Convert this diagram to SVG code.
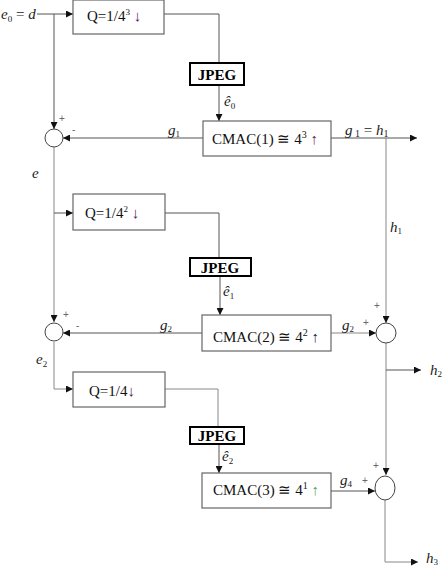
<svg xmlns="http://www.w3.org/2000/svg" width="442" height="572" viewBox="0 0 442 572">
<style>
.box{fill:#fff;stroke:#666;stroke-width:1.2}
.jpeg{fill:#fff;stroke:#000;stroke-width:2}
.ln{fill:none;stroke:#555;stroke-width:1}
.lt{fill:none;stroke:#888;stroke-width:1}
.sum{fill:#fff;stroke:#444;stroke-width:1}
.t{font-family:"Liberation Serif",serif;font-size:15px;fill:#111}
.jt{font-family:"Liberation Serif",serif;font-size:15px;font-weight:bold;fill:#000}
.it{font-family:"Liberation Serif",serif;font-size:15px;font-style:italic;fill:#222}
.pm{font-family:"Liberation Sans",sans-serif;font-size:10px;fill:#666}
</style>
<defs>
<marker id="ah" viewBox="0 0 10 10" refX="10" refY="5" markerWidth="7" markerHeight="7" orient="auto" markerUnits="userSpaceOnUse">
<path d="M0,0 L10,5 L0,10 z" fill="#111"/>
</marker>
</defs>

<g id="connectors">
<line class="ln" x1="37" y1="14" x2="73" y2="14" marker-end="url(#ah)"/>
<line class="ln" x1="54" y1="14" x2="54" y2="129" marker-end="url(#ah)"/>
<polyline class="ln" points="164,14 219,14 219,63"/>
<line class="ln" x1="219" y1="85" x2="219" y2="121" marker-end="url(#ah)"/>
<line class="ln" x1="203" y1="138" x2="63" y2="138" marker-end="url(#ah)"/>
<line class="ln" x1="331" y1="138" x2="417" y2="138" marker-end="url(#ah)"/>
<line class="lt" x1="386" y1="138" x2="386" y2="323" marker-end="url(#ah)"/>
<line class="lt" x1="54" y1="147" x2="54" y2="322" marker-end="url(#ah)"/>
<line class="ln" x1="54" y1="213" x2="73" y2="213" marker-end="url(#ah)"/>
<polyline class="ln" points="165,213 219,213 219,258"/>
<line class="ln" x1="220" y1="276" x2="220" y2="315" marker-end="url(#ah)"/>
<line class="ln" x1="202" y1="333" x2="63" y2="333" marker-end="url(#ah)"/>
<line class="lt" x1="331" y1="333" x2="376" y2="333" marker-end="url(#ah)"/>
<polyline class="lt" points="54,342 54,389 73,389" marker-end="url(#ah)"/>
<polyline class="lt" points="165,389 218,389 218,427"/>
<line class="ln" x1="219" y1="444" x2="219" y2="473" marker-end="url(#ah)"/>
<line class="lt" x1="386" y1="343" x2="386" y2="475" marker-end="url(#ah)"/>
<line class="ln" x1="386" y1="370" x2="421" y2="370" marker-end="url(#ah)"/>
<line class="ln" x1="331" y1="491" x2="375" y2="491" marker-end="url(#ah)"/>
<polyline class="lt" points="385,500 385,562 418,562" marker-end="url(#ah)"/>
</g>

<g id="q1"><rect class="box" x="73" y="0" width="91" height="34"/><text class="t" x="87" y="21">Q=1/4<tspan font-size="9" dy="-6">3</tspan><tspan dy="6" fill="#4a2060"> ↓</tspan></text></g>
<g id="jpeg1"><rect class="jpeg" x="190" y="63" width="54" height="22"/><text class="jt" x="217" y="80" text-anchor="middle">JPEG</text></g>
<g id="cmac1"><rect class="box" x="203" y="121" width="128" height="35"/><text class="t" x="212" y="144">CMAC(1) ≅ 4<tspan font-size="10" dy="-6">3</tspan><tspan dy="6" fill="#702060"> ↑</tspan></text></g>
<g id="sum1"><circle class="sum" cx="54" cy="138" r="9"/><text class="pm" x="59" y="122">+</text><text class="pm" x="72" y="133">-</text></g>

<g id="q2"><rect class="box" x="73" y="194" width="92" height="36"/><text class="t" x="85" y="218">Q=1/4<tspan font-size="9" dy="-6">2</tspan><tspan dy="6" fill="#4a2060"> ↓</tspan></text></g>
<g id="jpeg2"><rect class="jpeg" x="190" y="258" width="61" height="18"/><text class="jt" x="220" y="273" text-anchor="middle">JPEG</text></g>
<g id="cmac2"><rect class="box" x="202" y="315" width="129" height="36"/><text class="t" x="213" y="342">CMAC(2) ≅ 4<tspan font-size="10" dy="-6">2</tspan><tspan dy="6" fill="#202060"> ↑</tspan></text></g>
<g id="sum2"><circle class="sum" cx="54" cy="332" r="9"/><text class="pm" x="63" y="318">+</text><text class="pm" x="76" y="329">-</text></g>

<g id="q3"><rect class="box" x="73" y="372" width="92" height="35"/><text class="t" x="89" y="396">Q=1/4<tspan fill="#4a2060">↓</tspan></text></g>
<g id="jpeg3"><rect class="jpeg" x="190" y="427" width="54" height="17"/><text class="jt" x="217" y="441" text-anchor="middle">JPEG</text></g>
<g id="cmac3"><rect class="box" x="202" y="473" width="129" height="35"/><text class="t" x="213" y="495">CMAC(3) ≅ 4<tspan font-size="10" dy="-6">1</tspan><tspan dy="6" fill="#60a060"> ↑</tspan></text></g>

<g id="sumR2"><circle class="sum" cx="386" cy="333" r="10"/><text class="pm" x="374" y="309">+</text><text class="pm" x="363" y="326">+</text></g>
<g id="sumR3"><ellipse class="sum" cx="385" cy="488" rx="10" ry="12"/><text class="pm" x="373" y="469">+</text><text class="pm" x="362" y="484">+</text></g>

<g id="labels">
<text class="it" x="1" y="19">e<tspan font-size="9" font-style="normal" dy="3">0</tspan><tspan dy="-3" font-style="normal"> = </tspan>d</text>
<text class="it" x="224" y="106">ê<tspan font-size="9" font-style="normal" dy="3">0</tspan></text>
<text class="it" x="168" y="135">g<tspan font-size="9" font-style="normal" dy="2">1</tspan></text>
<text class="it" x="345" y="135">g<tspan font-size="10" font-style="normal" dy="2"> 1</tspan><tspan font-style="normal" dy="-2"> = </tspan>h<tspan font-size="10" font-style="normal" dy="2">1</tspan></text>
<text class="it" x="390" y="232">h<tspan font-size="9" font-style="normal" dy="2">1</tspan></text>
<text class="it" x="32" y="178">e</text>
<text class="it" x="223" y="296">ê<tspan font-size="9" font-style="normal" dy="3">1</tspan></text>
<text class="it" x="160" y="330">g<tspan font-size="9" font-style="normal" dy="2">2</tspan></text>
<text class="it" x="342" y="330">g<tspan font-size="9" font-style="normal" dy="2">2</tspan></text>
<text class="it" x="36" y="364">e<tspan font-size="9" font-style="normal" dy="3">2</tspan></text>
<text class="it" x="430" y="375">h<tspan font-size="9" font-style="normal" dy="2">2</tspan></text>
<text class="it" x="222" y="461">ê<tspan font-size="9" font-style="normal" dy="3">2</tspan></text>
<text class="it" x="340" y="485">g<tspan font-size="9" font-style="normal" dy="2">4</tspan></text>
<text class="it" x="426" y="563">h<tspan font-size="9" font-style="normal" dy="2">3</tspan></text>
</g>
</svg>
